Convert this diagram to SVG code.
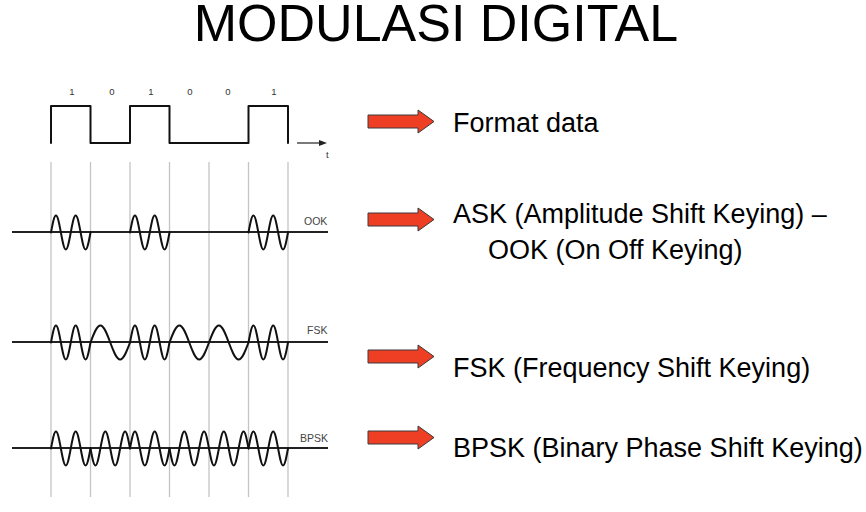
<svg xmlns="http://www.w3.org/2000/svg" xmlns:xlink="http://www.w3.org/1999/xlink" width="866" height="512" viewBox="0 0 866 512">
<style>
.t{font-family:"Liberation Sans",Arial,sans-serif;fill:#000}
.big{font-size:27px}
.sm{font-family:"Liberation Sans",Arial,sans-serif;font-size:10.5px;fill:#444}
.bit{font-family:"Liberation Sans",Arial,sans-serif;font-size:9.5px;fill:#333}
.grid{stroke:#c4c4c4;stroke-width:1.3;fill:none}
.base{stroke:#222;stroke-width:1.8;fill:none}
.wave{stroke:#111;stroke-width:2;fill:none;stroke-linejoin:round;stroke-linecap:round}
.arr{fill:#EE3F24;stroke:#3a3a3a;stroke-width:1}
</style>
<defs>
<path id="f2" class="wave" d="M0,0 c1.61,-8.71 3.15,-17 4.9375,-17 c1.79,0 3.33,8.29 4.9375,17 c1.61,8.71 3.15,17 4.9375,17 c1.79,0 3.33,-8.29 4.9375,-17 c1.61,-8.71 3.15,-17 4.9375,-17 c1.79,0 3.33,8.29 4.9375,17 c1.61,8.71 3.15,17 4.9375,17 c1.79,0 3.33,-8.29 4.9375,-17"/>
<path id="n2" class="wave" d="M0,0 c1.61,8.71 3.15,17 4.9375,17 c1.79,0 3.33,-8.29 4.9375,-17 c1.61,-8.71 3.15,-17 4.9375,-17 c1.79,0 3.33,8.29 4.9375,17 c1.61,8.71 3.15,17 4.9375,17 c1.79,0 3.33,-8.29 4.9375,-17 c1.61,-8.71 3.15,-17 4.9375,-17 c1.79,0 3.33,8.29 4.9375,17"/>
<path id="s1" class="wave" d="M0,0 c3.22,-8.71 6.30,-17 9.875,-17 c3.57,0 6.66,8.29 9.875,17 c3.22,8.71 6.30,17 9.875,17 c3.57,0 6.66,-8.29 9.875,-17"/>
<path id="redArrow" class="arr" d="M0,-6.5 H50 V-11.5 L66,0 L50,11.5 V6.5 H0 Z"/>
</defs>

<text class="t" x="436" y="41" font-size="52" text-anchor="middle">MODULASI DIGITAL</text>

<g id="data-format">
<text class="bit" x="72" y="95" text-anchor="middle">1</text>
<text class="bit" x="112" y="95" text-anchor="middle">0</text>
<text class="bit" x="151" y="95" text-anchor="middle">1</text>
<text class="bit" x="190" y="95" text-anchor="middle">0</text>
<text class="bit" x="228" y="95" text-anchor="middle">0</text>
<text class="bit" x="274" y="95" text-anchor="middle">1</text>
<path class="wave" stroke-linecap="butt" stroke-linejoin="miter" d="M51,143 V106 H90.5 V143 H130 V106 H169.5 V143 H248.5 V106 H288 V143"/>
<line x1="297" y1="143" x2="320" y2="143" stroke="#222" stroke-width="1.2"/>
<polygon points="319,140 327,143 319,146" fill="#222"/>
<text class="bit" x="326" y="158" font-size="8">t</text>
</g>

<g id="grid">
<line class="grid" x1="51" y1="162" x2="51" y2="497"/>
<line class="grid" x1="90.5" y1="162" x2="90.5" y2="497"/>
<line class="grid" x1="130" y1="162" x2="130" y2="497"/>
<line class="grid" x1="169.5" y1="162" x2="169.5" y2="497"/>
<line class="grid" x1="209" y1="162" x2="209" y2="497"/>
<line class="grid" x1="248.5" y1="162" x2="248.5" y2="497"/>
<line class="grid" x1="288" y1="162" x2="288" y2="497"/>
</g>

<g id="ook">
<line class="base" x1="12" y1="232" x2="328" y2="232"/>
<use xlink:href="#f2" x="51" y="232.5"/>
<use xlink:href="#f2" x="130" y="232.5"/>
<use xlink:href="#f2" x="248.5" y="232.5"/>
<text class="sm" x="304" y="225">OOK</text>
</g>

<g id="fsk">
<line class="base" x1="12" y1="342" x2="328" y2="342"/>
<use xlink:href="#f2" x="51" y="342.5"/>
<use xlink:href="#s1" x="90.5" y="342.5"/>
<use xlink:href="#f2" x="130" y="342.5"/>
<use xlink:href="#s1" x="169.5" y="342.5"/>
<use xlink:href="#s1" x="209" y="342.5"/>
<use xlink:href="#f2" x="248.5" y="342.5"/>
<text class="sm" x="307" y="334">FSK</text>
</g>

<g id="bpsk">
<line class="base" x1="12" y1="448" x2="328" y2="448"/>
<use xlink:href="#f2" x="51" y="448.5"/>
<use xlink:href="#n2" x="90.5" y="448.5"/>
<use xlink:href="#f2" x="130" y="448.5"/>
<use xlink:href="#n2" x="169.5" y="448.5"/>
<use xlink:href="#n2" x="209" y="448.5"/>
<use xlink:href="#f2" x="248.5" y="448.5"/>
<text class="sm" x="300" y="442">BPSK</text>
</g>

<g id="label-format">
<use xlink:href="#redArrow" x="368" y="121.5"/>
<text class="t big" x="453" y="132">Format data</text>
</g>
<g id="label-ask">
<use xlink:href="#redArrow" x="368" y="219.5"/>
<text class="t big" x="453" y="223">ASK (Amplitude Shift Keying) –</text>
<text class="t big" x="488" y="259">OOK (On Off Keying)</text>
</g>
<g id="label-fsk">
<use xlink:href="#redArrow" x="368" y="356.5"/>
<text class="t big" x="453" y="377">FSK (Frequency Shift Keying)</text>
</g>
<g id="label-bpsk">
<use xlink:href="#redArrow" x="368" y="437.5"/>
<text class="t big" x="453" y="457">BPSK (Binary Phase Shift Keying)</text>
</g>
</svg>
